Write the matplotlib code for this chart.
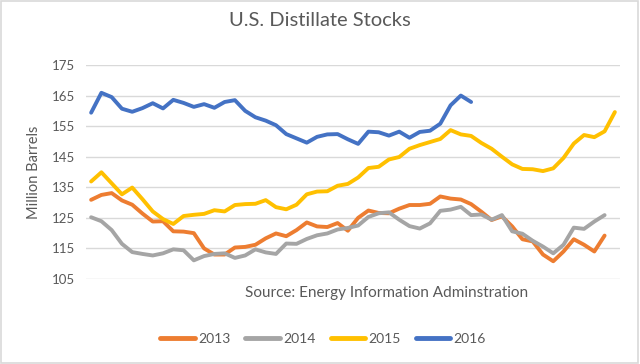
import matplotlib
matplotlib.use("Agg")
import matplotlib.pyplot as plt
from matplotlib.patches import Rectangle

# -----------------------------------------
# DATOS (semanas, millones de barriles)
# -----------------------------------------

anios = ["2013", "2014", "2015", "2016"]
colores = ["#ED7D31", "#A5A5A5", "#FFC000", "#4472C4"]

stocks_2013 = [130.9, 132.5, 133.1, 130.7, 129.3, 126.4, 123.8, 123.9, 120.6, 120.5,
               120.0, 115.0, 113.0, 113.0, 115.3, 115.5, 116.2, 118.3, 119.9, 119.0,
               121.0, 123.5, 122.2, 122.0, 123.3, 120.8, 125.0, 127.4, 126.6, 126.5,
               128.0, 129.2, 129.2, 129.6, 132.0, 131.3, 131.0, 129.5, 127.0, 124.3,
               125.5, 122.2, 118.0, 117.3, 113.0, 110.8, 114.0, 118.0, 116.2, 114.0,
               119.2]

stocks_2014 = [125.2, 123.9, 121.0, 116.5, 113.8, 113.2, 112.7, 113.4, 114.7, 114.4,
               111.1, 112.5, 113.2, 113.4, 111.9, 112.7, 114.7, 113.7, 113.2, 116.6,
               116.5, 118.1, 119.3, 119.9, 121.2, 121.7, 122.5, 125.3, 126.5, 126.8,
               124.4, 122.3, 121.5, 123.2, 127.3, 127.7, 128.6, 125.9, 126.1, 124.4,
               125.9, 120.6, 119.8, 117.5, 115.6, 113.4, 116.2, 121.8, 121.4, 123.8,
               125.9]

stocks_2015 = [136.9, 139.9, 136.3, 132.7, 134.9, 131.1, 127.1, 124.6, 123.0, 125.6,
               126.0, 126.3, 127.5, 127.1, 129.2, 129.5, 129.6, 130.8, 128.5, 127.8,
               129.3, 132.7, 133.6, 133.7, 135.5, 136.1, 138.2, 141.3, 141.7, 144.1,
               144.9, 147.6, 148.8, 149.8, 150.8, 153.7, 152.3, 151.8, 149.5, 147.6,
               145.0, 142.5, 141.0, 140.9, 140.3, 141.2, 144.6, 149.3, 152.1, 151.4,
               153.3, 159.6]

stocks_2016 = [159.4, 165.9, 164.5, 160.7, 159.7, 160.9, 162.5, 160.8, 163.6, 162.6,
               161.3, 162.2, 161.0, 162.9, 163.5, 160.0, 157.9, 156.8, 155.3, 152.4,
               151.0, 149.6, 151.5, 152.3, 152.4, 150.7, 149.2, 153.2, 153.0, 151.9,
               153.2, 151.2, 153.1, 153.5, 155.8, 161.8, 165.0, 162.9]

series = [stocks_2013, stocks_2014, stocks_2015, stocks_2016]
yticks = [105, 115, 125, 135, 145, 155, 165, 175]
n_semanas = 52

plt.rcParams['font.family'] = ['Lato', 'DejaVu Sans']
gris_texto = '#595959'

# -----------------------------------------
# GRÁFICA
# -----------------------------------------

fig = plt.figure(figsize=(6.4, 3.64), dpi=100)
ax = fig.add_axes([86/640, 1 - 279/364, 534/640, 214/364])

for anio, color, datos in zip(anios, colores, series):
    ax.plot(
        range(len(datos)),
        datos,
        color=color,
        linewidth=2.8,
        solid_joinstyle='round',
        solid_capstyle='round',
        label=anio
    )

ax.set_xlim(-0.5, n_semanas - 0.5)
ax.set_ylim(105, 175)
ax.set_yticks(yticks)
ax.set_xticks([])
ax.grid(axis='y', color='#D9D9D9', linewidth=1)
ax.set_axisbelow(True)
for s in ax.spines.values():
    s.set_visible(False)
ax.tick_params(axis='y', length=0, labelsize=9.5, labelcolor=gris_texto, pad=8)

ax.set_ylabel("Million Barrels", fontsize=10.5, color=gris_texto, labelpad=8)

fig.text(0.5, 1 - 20/364, "U.S. Distillate Stocks", ha='center', va='center',
         fontsize=14.5, color=gris_texto)
fig.text(387/640, 1 - 293/364, "Source: Energy Information Adminstration",
         ha='center', va='center', fontsize=11, color=gris_texto)

leg = fig.legend(
    loc='center',
    bbox_to_anchor=(323/640, 1 - 339/364),
    ncol=4,
    frameon=False,
    fontsize=10,
    handlelength=2.5,
    columnspacing=1.1,
    handletextpad=0.2
)
for t in leg.get_texts():
    t.set_color(gris_texto)
for h in leg.get_lines():
    h.set_linewidth(3.5)

fig.patches.append(Rectangle((0.002, 0.003), 0.995, 0.993, transform=fig.transFigure,
                             fill=False, edgecolor='#D9D9D9', linewidth=1.2))

fig.savefig("out.png", dpi=100)
